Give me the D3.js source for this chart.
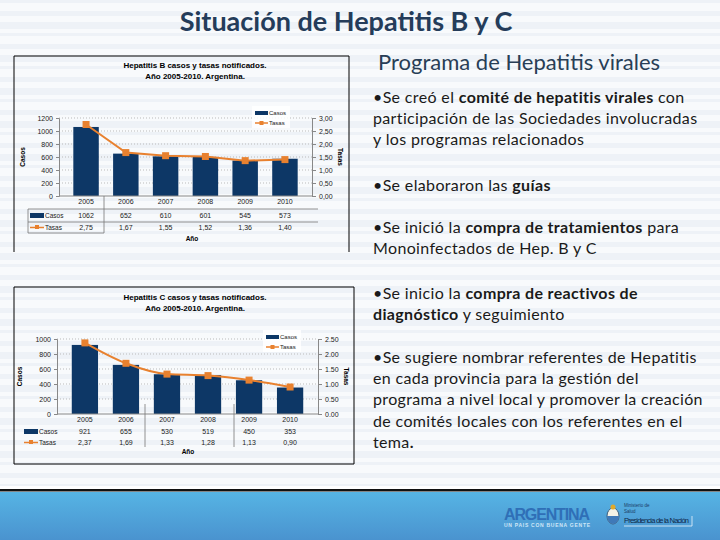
<!DOCTYPE html>
<html>
<head>
<meta charset="utf-8">
<script src="https://cdn.jsdelivr.net/npm/d3@7"></script>
<style>
  body { margin: 0; }
  svg { display: block; }
</style>
</head>
<body>
<script>
// two combo charts (casos + tasas) and the program notes beside them

var width = 720,
    height = 540;

var years = ["2005", "2006", "2007", "2008", "2009", "2010"];

var casosB = [1062, 652, 610, 601, 545, 573];
var tasasB = [2.75, 1.67, 1.55, 1.52, 1.36, 1.40];
var ticksCasosB = [0, 200, 400, 600, 800, 1000, 1200];
var ticksTasasB = [0, 0.5, 1, 1.5, 2, 2.5, 3];

var casosC = [921, 655, 530, 519, 450, 353];
var tasasC = [2.37, 1.69, 1.33, 1.28, 1.13, 0.90];
var ticksCasosC = [0, 200, 400, 600, 800, 1000];
var ticksTasasC = [0, 0.5, 1, 1.5, 2, 2.5];

var navy = "#0d3766",
    orange = "#e8812f";

var svg = d3.select("body").append("svg")
    .attr("width", width)
    .attr("height", height);

// background with faint stripes
svg.append("rect").attr("width", width).attr("height", height).attr("fill", "#f8fafc");
svg.selectAll(".stripe")
  .data(d3.range(0, 488, 11))
  .enter().append("rect")
  .attr("class", "stripe")
  .attr("x", 0)
  .attr("y", function(d) { return d; })
  .attr("width", width)
  .attr("height", function(d, i) { return 3 + (i % 3) * 2; })
  .attr("fill", "#e4eaf1")
  .attr("opacity", 0.5);

// slide title
svg.append("text")
  .attr("x", 346).attr("y", 31)
  .attr("text-anchor", "middle")
  .style("font-family", "Lato")
  .style("font-weight", "bold")
  .style("font-size", "27px")
  .attr("fill", "#243c5a")
  .text("Situación de Hepatitis B y C");

function drawChart(cfg) {
  var g = svg.append("g");
  var b = cfg.box;

  // frame (B chart has no bottom edge)
  var frame = "M" + b[0] + "," + b[3] + "V" + b[1] + "H" + b[2] + "V" + b[3] + (cfg.closed ? "Z" : "");
  g.append("path")
    .attr("d", frame)
    .attr("fill", "none").attr("stroke", "#000").attr("stroke-width", 1);

  g.selectAll(".ctitle")
    .data(cfg.title)
    .enter().append("text")
    .attr("x", cfg.titleX)
    .attr("y", function(d, i) { return cfg.titleY + i * 11; })
    .attr("text-anchor", "middle")
    .style("font-family", "Liberation Sans")
    .style("font-weight", "bold")
    .style("font-size", "8px")
    .text(function(d) { return d; });

  var x = d3.scaleBand().domain(years).range([cfg.left, cfg.right]).padding(0.36);
  var y = d3.scaleLinear().domain([0, d3.max(cfg.ticksCasos)]).range([cfg.bottom, cfg.top]);
  var y2 = d3.scaleLinear().domain([0, d3.max(cfg.ticksTasas)]).range([cfg.bottom, cfg.top]);

  // dotted grid
  g.selectAll(".grid")
    .data(cfg.ticksCasos.slice(1))
    .enter().append("line")
    .attr("x1", cfg.left).attr("x2", cfg.right)
    .attr("y1", function(d) { return y(d); }).attr("y2", function(d) { return y(d); })
    .attr("stroke", "#bbb").attr("stroke-dasharray", "1,2");

  g.selectAll(".bar")
    .data(cfg.casos)
    .enter().append("rect")
    .attr("x", function(d, i) { return x(years[i]); })
    .attr("y", function(d) { return y(d); })
    .attr("width", x.bandwidth())
    .attr("height", function(d) { return cfg.bottom - y(d); })
    .attr("fill", navy);

  var line = d3.line()
    .x(function(d, i) { return x(years[i]) + x.bandwidth() / 2; })
    .y(function(d) { return y2(d); })
    .curve(cfg.curve);

  g.append("path")
    .datum(cfg.tasas)
    .attr("d", line)
    .attr("fill", "none")
    .attr("stroke", orange)
    .attr("stroke-width", 2);

  g.selectAll(".mark")
    .data(cfg.tasas)
    .enter().append("rect")
    .attr("x", function(d, i) { return x(years[i]) + x.bandwidth() / 2 - 3.5; })
    .attr("y", function(d) { return y2(d) - 3.5; })
    .attr("width", 7).attr("height", 7)
    .attr("fill", orange);

  var axL = g.append("g")
    .attr("transform", "translate(" + cfg.left + ",0)")
    .call(d3.axisLeft(y).tickValues(cfg.ticksCasos).tickSize(3).tickPadding(3).tickFormat(d3.format("d")));
  var axR = g.append("g")
    .attr("transform", "translate(" + cfg.right + ",0)")
    .call(d3.axisRight(y2).tickValues(cfg.ticksTasas).tickSize(4).tickPadding(3).tickFormat(cfg.tasaFmt));
  [axL, axR].forEach(function(a) {
    a.selectAll("text").style("font-family", "Liberation Sans").style("font-size", "7px").attr("fill", "#222");
    a.selectAll("line, path").attr("stroke", "#888");
  });

  g.append("line")
    .attr("x1", cfg.left).attr("x2", cfg.right)
    .attr("y1", cfg.bottom).attr("y2", cfg.bottom)
    .attr("stroke", "#888");

  // axis titles
  g.append("text")
    .attr("transform", "translate(" + cfg.casosTitleX + "," + ((cfg.top + cfg.bottom) / 2) + ") rotate(-90)")
    .attr("text-anchor", "middle")
    .style("font-family", "Liberation Sans").style("font-size", "6.5px").style("font-weight", "bold")
    .text("Casos");
  g.append("text")
    .attr("transform", "translate(" + cfg.tasasTitleX + "," + ((cfg.top + cfg.bottom) / 2) + ") rotate(90)")
    .attr("text-anchor", "middle")
    .style("font-family", "Liberation Sans").style("font-size", "6.5px").style("font-weight", "bold")
    .text("Tasas");

  // data table
  var t = cfg.table;
  var cellText = function(yy, fn) {
    g.selectAll(null)
      .data(years)
      .enter().append("text")
      .attr("x", function(d) { return x(d) + x.bandwidth() / 2; })
      .attr("y", yy)
      .attr("text-anchor", "middle")
      .style("font-family", "Liberation Sans").style("font-size", "7px").attr("fill", "#222")
      .text(fn);
  };
  cellText(t.yearY, function(d) { return d; });
  cellText(t.casosY, function(d, i) { return String(cfg.casos[i]); });
  cellText(t.tasasY, function(d, i) { return cfg.tableFmt(cfg.tasas[i]); });

  g.append("rect")
    .attr("x", t.keyX).attr("y", t.casosY - 5).attr("width", 14).attr("height", 5)
    .attr("fill", navy);
  g.append("line")
    .attr("x1", t.keyX).attr("x2", t.keyX + 14)
    .attr("y1", t.tasasY - 2.5).attr("y2", t.tasasY - 2.5)
    .attr("stroke", orange).attr("stroke-width", 1.5);
  g.append("rect")
    .attr("x", t.keyX + 5).attr("y", t.tasasY - 5).attr("width", 4).attr("height", 4)
    .attr("fill", orange);
  [["Casos", t.casosY], ["Tasas", t.tasasY]].forEach(function(r) {
    g.append("text")
      .attr("x", t.keyX + 15).attr("y", r[1])
      .style("font-family", "Liberation Sans").style("font-size", "6.5px").attr("fill", "#222")
      .text(r[0]);
  });

  t.hLines.forEach(function(l) {
    g.append("line")
      .attr("x1", l[0]).attr("x2", l[1]).attr("y1", l[2]).attr("y2", l[2])
      .attr("stroke", "#777").attr("stroke-width", 0.8);
  });
  t.vLines.forEach(function(l) {
    g.append("line")
      .attr("x1", l[0]).attr("x2", l[0]).attr("y1", l[1]).attr("y2", l[2])
      .attr("stroke", "#777").attr("stroke-width", 0.8);
  });

  g.append("text")
    .attr("x", t.anoX).attr("y", t.anoY)
    .attr("text-anchor", "middle")
    .style("font-family", "Liberation Sans").style("font-size", "6.5px").style("font-weight", "bold")
    .text("Año");

  // legend
  var lg = cfg.legend;
  g.append("rect")
    .attr("x", lg[0] - 3).attr("y", lg[1] - 5).attr("width", 38).attr("height", 22)
    .attr("fill", "#fff").attr("opacity", 0.85);
  g.append("rect")
    .attr("x", lg[0]).attr("y", lg[1]).attr("width", 13).attr("height", 4)
    .attr("fill", navy);
  g.append("line")
    .attr("x1", lg[0]).attr("x2", lg[0] + 13).attr("y1", lg[1] + 12).attr("y2", lg[1] + 12)
    .attr("stroke", orange).attr("stroke-width", 1.5);
  g.append("rect")
    .attr("x", lg[0] + 4.5).attr("y", lg[1] + 10).attr("width", 4).attr("height", 4)
    .attr("fill", orange);
  [["Casos", 4], ["Tasas", 14]].forEach(function(r) {
    g.append("text")
      .attr("x", lg[0] + 14).attr("y", lg[1] + r[1])
      .style("font-family", "Liberation Sans").style("font-size", "6px").attr("fill", "#222")
      .text(r[0]);
  });
}

var commaFmt = function(d) { return d3.format(".2f")(d).replace(".", ","); };

drawChart({
  box: [14, 56, 349, 252], closed: false,
  title: ["Hepatitis B casos y tasas notificados.", "Año 2005-2010. Argentina."],
  titleX: 195, titleY: 68,
  left: 59, right: 312, top: 118, bottom: 196,
  casos: casosB, tasas: tasasB,
  ticksCasos: ticksCasosB, ticksTasas: ticksTasasB,
  tasaFmt: commaFmt, tableFmt: commaFmt,
  curve: d3.curveLinear,
  casosTitleX: 25, tasasTitleX: 338,
  legend: [255, 111],
  table: {
    yearY: 204, casosY: 218, tasasY: 230, keyX: 30,
    hLines: [[28, 318, 209], [28, 318, 222], [28, 104, 233]],
    vLines: [[104, 196, 233], [28, 209, 233]],
    anoX: 192, anoY: 241
  }
});

drawChart({
  box: [14, 287, 354, 464], closed: true,
  title: ["Hepatitis C casos y tasas notificados.", "Año 2005-2010. Argentina."],
  titleX: 195, titleY: 300,
  left: 57, right: 318, top: 339, bottom: 414,
  casos: casosC, tasas: tasasC,
  ticksCasos: ticksCasosC, ticksTasas: ticksTasasC,
  tasaFmt: d3.format(".2f"), tableFmt: commaFmt,
  curve: d3.curveMonotoneX,
  casosTitleX: 22, tasasTitleX: 344,
  legend: [266, 335],
  table: {
    yearY: 422, casosY: 434, tasasY: 445, keyX: 24,
    hLines: [],
    vLines: [[145, 404, 447], [234, 404, 447]],
    anoX: 188, anoY: 454
  }
});

// program notes
svg.append("text")
  .attr("x", 378).attr("y", 70)
  .style("font-family", "Lato").style("font-size", "22px")
  .attr("fill", "#283e56")
  .text("Programa de Hepatitis virales");

var notes = [
  { y: 103, lines: [
      [["•Se creó el ", false], ["comité de hepatitis virales", true], [" con", false]],
      [["participación de las Sociedades involucradas", false]],
      [["y los programas relacionados", false]] ] },
  { y: 191, lines: [
      [["•Se elaboraron las ", false], ["guías", true]] ] },
  { y: 233, lines: [
      [["•Se inició la ", false], ["compra de tratamientos", true], [" para", false]],
      [["Monoinfectados de Hep.  B y C", false]] ] },
  { y: 299, lines: [
      [["•Se inicio la ", false], ["compra de reactivos de", true]],
      [["diagnóstico", true], [" y seguimiento", false]] ] },
  { y: 363, lines: [
      [["•Se sugiere nombrar referentes de Hepatitis", false]],
      [["en cada provincia para la gestión del", false]],
      [["programa a nivel local y promover la creación", false]],
      [["de comités locales con los referentes en el", false]],
      [["tema", false], [".", true]] ] }
];

notes.forEach(function(n) {
  n.lines.forEach(function(segs, i) {
    var t = svg.append("text")
      .attr("x", 373).attr("y", n.y + i * 21.2)
      .style("font-family", "Lato").style("font-size", "16px")
      .style("letter-spacing", "0.35px")
      .attr("fill", "#1a1a1a");
    segs.forEach(function(s) {
      t.append("tspan")
        .style("font-weight", s[1] ? "bold" : "normal")
        .text(s[0]);
    });
  });
});

// footer band
svg.append("rect").attr("x", 0).attr("y", 486).attr("width", width).attr("height", 3).attr("fill", "#ffffff");
svg.append("rect").attr("x", 0).attr("y", 489).attr("width", width).attr("height", 2.5).attr("fill", "#111");
var grad = svg.append("defs").append("linearGradient")
    .attr("id", "foot").attr("x1", 0).attr("x2", 0).attr("y1", 0).attr("y2", 1);
grad.append("stop").attr("offset", "0%").attr("stop-color", "#56b4e4");
grad.append("stop").attr("offset", "100%").attr("stop-color", "#4a93cf");
svg.append("rect").attr("x", 0).attr("y", 492).attr("width", width).attr("height", 48).attr("fill", "url(#foot)");

svg.append("text")
  .attr("x", 504).attr("y", 520)
  .attr("textLength", 86)
  .style("font-family", "Liberation Sans").style("font-weight", "bold").style("font-size", "16px")
  .attr("fill", "#2f6fb7")
  .text("ARGENTINA");
svg.append("text")
  .attr("x", 504).attr("y", 527)
  .attr("textLength", 86)
  .style("font-family", "Liberation Sans").style("font-weight", "bold").style("font-size", "5px")
  .attr("fill", "#cfe6f7")
  .text("UN PAIS CON BUENA GENTE");

// coat of arms, roughly
svg.append("ellipse").attr("cx", 613).attr("cy", 516).attr("rx", 6).attr("ry", 8).attr("fill", "#f3f1e6").attr("stroke", "#3a5c7a").attr("stroke-width", 1);
svg.append("path").attr("d", "M607,516 A6,8 0 0,0 619,516 Z").attr("fill", "#3f79b8");
svg.append("circle").attr("cx", 613).attr("cy", 507).attr("r", 2.5).attr("fill", "#e0a92a");

svg.append("text").attr("x", 624).attr("y", 507)
  .style("font-family", "Liberation Sans").style("font-size", "4.5px").attr("fill", "#1b3d66")
  .text("Ministerio de");
svg.append("text").attr("x", 624).attr("y", 513)
  .style("font-family", "Liberation Sans").style("font-size", "4.5px").attr("fill", "#1b3d66")
  .text("Salud");
svg.append("text").attr("x", 624).attr("y", 523)
  .attr("textLength", 65)
  .style("font-family", "Liberation Sans").style("font-size", "7.5px").attr("fill", "#10284a")
  .text("Presidencia de la Nación");
svg.append("line").attr("x1", 624).attr("x2", 692).attr("y1", 526).attr("y2", 526).attr("stroke", "#e8f2fb").attr("stroke-width", 0.8);
svg.append("line").attr("x1", 692).attr("x2", 692).attr("y1", 516).attr("y2", 526).attr("stroke", "#e8f2fb").attr("stroke-width", 0.8);
</script>
</body>
</html>
